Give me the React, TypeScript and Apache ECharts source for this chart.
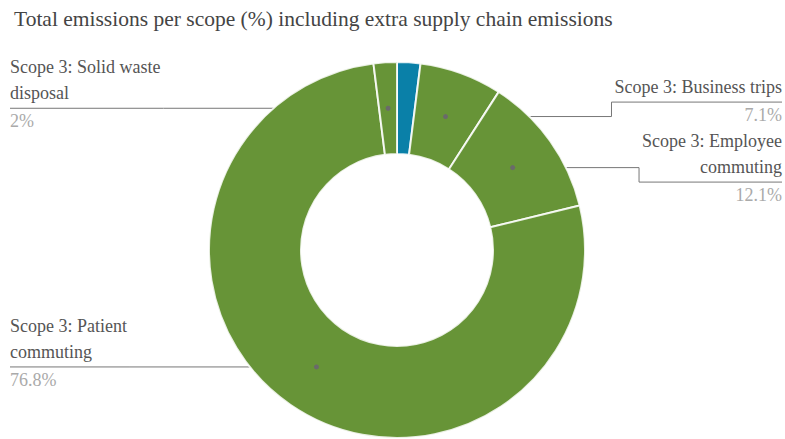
import React, { useEffect, useRef } from 'react';
import * as echarts from 'echarts';

// ---- data ----
const TITLE = 'Total emissions per scope (%) including extra supply chain emissions';
const categories = [
  'Scope 1 & 2',
  'Scope 3: Business trips',
  'Scope 3: Employee commuting',
  'Scope 3: Patient commuting',
  'Scope 3: Solid waste disposal',
];
const values = [2, 7.1, 12.1, 76.8, 2];
const colors = ['#0a80a8', '#679437', '#679437', '#679437', '#679437'];
const showLabel = [false, true, true, true, true];

// ---- layout constants ----
const W = 785;
const H = 439;
const CX = 397;
const CY = 250;
const R0 = 96;
const R1 = 188;
const LEFT_X = 10;
const RIGHT_X = 782;
const LABEL_W = 180;
const NAME_LH = 26;
const PCT_LH = 30;
const GAP = 2;
const MIN_GAP = 80;
const LABEL_FS = 18;
const FONT = 'Liberation Serif';

type Geo = { x: number; y: number; right: boolean; show: boolean; hrY: number; lines: string[] };

let measureCtx: CanvasRenderingContext2D | null = null;
function wrapText(text: string, maxW: number): string[] {
  if (!measureCtx) measureCtx = document.createElement('canvas').getContext('2d');
  const ctx = measureCtx!;
  ctx.font = `${LABEL_FS}px "${FONT}"`;
  const words = text.split(' ');
  const lines: string[] = [];
  let cur = '';
  words.forEach((w) => {
    const t = cur ? cur + ' ' + w : w;
    if (cur && ctx.measureText(t).width > maxW) {
      lines.push(cur);
      cur = w;
    } else cur = t;
  });
  if (cur) lines.push(cur);
  return lines;
}

function computeGeometry(): Geo[] {
  const total = values.reduce((a, b) => a + b, 0);
  let acc = 0;
  const rm = (R0 + R1) / 2;
  const geo: Geo[] = values.map((v, i) => {
    const a0 = (acc / total) * Math.PI * 2;
    acc += v;
    const a1 = (acc / total) * Math.PI * 2;
    const mid = (a0 + a1) / 2;
    const x = CX + rm * Math.sin(mid);
    const y = CY - rm * Math.cos(mid);
    return {
      x,
      y,
      right: mid < Math.PI,
      show: showLabel[i],
      hrY: y,
      lines: wrapText(categories[i], LABEL_W),
    };
  });
  [true, false].forEach((side) => {
    const items = geo.filter((g) => g.show && g.right === side).sort((a, b) => a.y - b.y);
    for (let iter = 0; iter < 20; iter++) {
      let moved = false;
      for (let k = 0; k < items.length - 1; k++) {
        const d = items[k + 1].hrY - items[k].hrY;
        if (d < MIN_GAP) {
          const s = (MIN_GAP - d) / 2;
          items[k].hrY -= s;
          items[k + 1].hrY += s;
          moved = true;
        }
      }
      if (!moved) break;
    }
  });
  return geo;
}

export default function App() {
  const ref = useRef<HTMLDivElement>(null);

  useEffect(() => {
    if (!ref.current) return;
    const chart = echarts.init(ref.current, undefined, { renderer: 'svg' });
    const geo = computeGeometry();

    const baseName = { fontSize: LABEL_FS, lineHeight: NAME_LH, color: '#555', fontFamily: FONT };
    const basePct = { fontSize: LABEL_FS, lineHeight: PCT_LH, color: '#aaa', fontFamily: FONT };

    const option: any = {
      animation: false,
      backgroundColor: '#fff',
      title: {
        text: TITLE,
        left: 9,
        top: 3,
        textStyle: { fontSize: 21.5, fontWeight: 'normal', color: '#444', fontFamily: FONT },
      },
      graphic: geo
        .filter((g) => g.show)
        .map((g) => ({
          type: 'circle',
          z: 100,
          shape: { cx: g.x, cy: g.y, r: 2.5 },
          style: { fill: '#6a6a6a' },
        })),
      series: [
        {
          type: 'pie',
          center: [CX, CY],
          radius: [R0, R1],
          startAngle: 90,
          clockwise: true,
          avoidLabelOverlap: false,
          itemStyle: { borderColor: 'rgba(255,255,255,0.85)', borderWidth: 2 },
          label: {
            show: true,
            position: 'outer',
            fontFamily: FONT,
            fontSize: LABEL_FS,
            formatter: (p: any) => {
              const g = geo[p.dataIndex];
              const nk = g.right ? 'nameR' : 'name';
              const pk = g.right ? 'pctR' : 'pct';
              return g.lines.map((l) => `{${nk}|${l}}`).join('\n') + '\n' + `{${pk}|${p.value}%}`;
            },
            rich: {
              name: { ...baseName, align: 'left' },
              nameR: { ...baseName, align: 'right' },
              pct: { ...basePct, align: 'left' },
              pctR: { ...basePct, align: 'right' },
            },
          },
          labelLine: {
            show: true,
            length: 10,
            length2: 10,
            lineStyle: { color: '#777', width: 1 },
          },
          labelLayout: (params: any) => {
            const g = geo[params.dataIndex];
            if (!g || !g.show) return {};
            const rect = params.labelRect;
            const nameH = g.lines.length * NAME_LH;
            const top = g.hrY - nameH - GAP;
            const edge = g.right ? RIGHT_X : LEFT_X;
            const inner = g.right ? RIGHT_X - rect.width : LEFT_X + rect.width;
            const elbowX = g.right ? Math.max(inner - 3, g.x) : Math.min(inner + 3, g.x);
            return {
              x: edge,
              y: top,
              align: g.right ? 'right' : 'left',
              verticalAlign: 'top',
              labelLinePoints: [
                [g.x, g.y],
                [elbowX, g.y],
                [elbowX, g.hrY],
                [edge, g.hrY],
              ],
            };
          },
          data: categories.map((name, i) => ({
            name,
            value: values[i],
            itemStyle: { color: colors[i] },
            label: { show: showLabel[i] },
            labelLine: { show: showLabel[i] },
          })),
        },
      ],
    };
    chart.setOption(option);
    return () => chart.dispose();
  }, []);

  return (
    <div
      ref={ref}
      style={{ position: 'absolute', left: 0, top: 0, width: W, height: H, background: '#fff' }}
    />
  );
}
